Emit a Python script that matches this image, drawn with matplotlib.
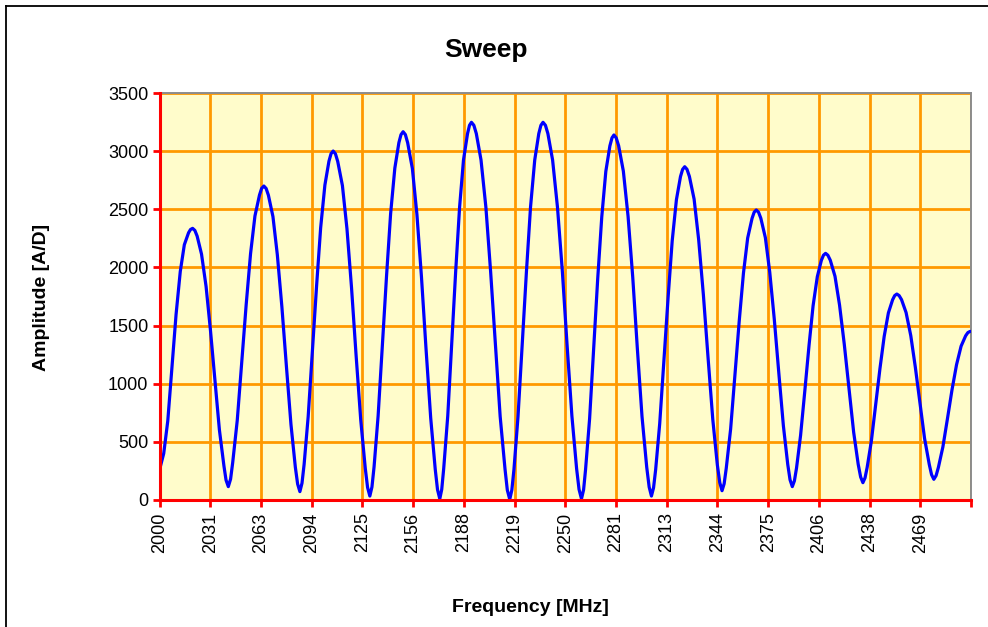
import matplotlib
matplotlib.use("Agg")
import matplotlib.pyplot as plt
from matplotlib.lines import Line2D

# ---- data ----
freq_mhz = [
    2000.0, 2002.6, 2005.1, 2007.7, 2010.2, 2012.8, 2015.3, 2017.9, 2019.1, 2020.4,
    2021.8, 2023.2, 2025.9, 2028.7, 2031.4, 2034.2, 2036.9, 2039.7, 2041.0, 2042.4,
    2043.8, 2045.1, 2047.9, 2050.6, 2053.4, 2056.1, 2058.8, 2061.6, 2062.9, 2064.3,
    2065.7, 2067.1, 2069.9, 2072.6, 2075.4, 2078.2, 2081.0, 2083.7, 2085.1, 2086.5,
    2087.8, 2089.1, 2091.6, 2094.2, 2096.8, 2099.3, 2101.9, 2104.4, 2105.7, 2107.0,
    2108.4, 2109.8, 2112.7, 2115.5, 2118.3, 2121.1, 2124.0, 2126.8, 2128.2, 2129.6,
    2130.9, 2132.2, 2134.7, 2137.3, 2139.9, 2142.4, 2145.0, 2147.5, 2148.8, 2150.1,
    2151.5, 2152.9, 2155.8, 2158.6, 2161.4, 2164.2, 2167.1, 2169.9, 2171.3, 2172.7,
    2173.9, 2175.1, 2177.6, 2180.0, 2182.5, 2184.9, 2187.3, 2189.8, 2191.0, 2192.2,
    2193.7, 2195.2, 2198.1, 2201.1, 2204.0, 2207.0, 2209.9, 2212.9, 2214.3, 2215.8,
    2217.1, 2218.4, 2220.9, 2223.5, 2226.1, 2228.6, 2231.2, 2233.7, 2235.0, 2236.3,
    2237.8, 2239.3, 2242.2, 2245.2, 2248.2, 2251.1, 2254.1, 2257.0, 2258.5, 2260.0,
    2261.3, 2262.5, 2265.0, 2267.5, 2270.0, 2272.5, 2275.0, 2277.5, 2278.8, 2280.0,
    2281.4, 2282.9, 2285.8, 2288.7, 2291.6, 2294.4, 2297.3, 2300.2, 2301.7, 2303.1,
    2304.4, 2305.7, 2308.2, 2310.8, 2313.4, 2315.9, 2318.5, 2321.0, 2322.3, 2323.6,
    2325.0, 2326.5, 2329.4, 2332.2, 2335.1, 2338.0, 2340.9, 2343.7, 2345.2, 2346.6,
    2347.9, 2349.2, 2351.9, 2354.5, 2357.2, 2359.8, 2362.4, 2365.1, 2366.4, 2367.7,
    2369.1, 2370.5, 2373.3, 2376.0, 2378.8, 2381.6, 2384.4, 2387.1, 2388.5, 2389.9,
    2391.2, 2392.5, 2395.0, 2397.6, 2400.2, 2402.7, 2405.3, 2407.8, 2409.1, 2410.4,
    2411.8, 2413.3, 2416.2, 2419.0, 2421.9, 2424.8, 2427.7, 2430.5, 2432.0, 2433.4,
    2434.7, 2436.0, 2438.6, 2441.2, 2443.9, 2446.5, 2449.1, 2451.7, 2453.0, 2454.3,
    2455.7, 2457.2, 2460.0, 2462.9, 2465.7, 2468.6, 2471.4, 2474.3, 2475.7, 2477.1,
    2478.5, 2479.9, 2482.7, 2485.5, 2488.3, 2491.1, 2493.9, 2496.7, 2498.1, 2499.5,
]
amplitude = [
    258, 400, 680, 1142, 1594, 1965, 2195, 2298, 2326, 2336,
    2318, 2269, 2114, 1836, 1459, 1026, 604, 293, 171, 115,
    180, 322, 684, 1175, 1679, 2118, 2442, 2622, 2679, 2700,
    2679, 2621, 2437, 2109, 1662, 1149, 650, 282, 138, 72,
    145, 306, 716, 1273, 1844, 2342, 2708, 2913, 2978, 3001,
    2977, 2912, 2704, 2333, 1829, 1250, 687, 271, 108, 34,
    112, 285, 723, 1319, 1929, 2462, 2854, 3073, 3142, 3167,
    3142, 3072, 2851, 2457, 1920, 1304, 705, 263, 89, 10,
    91, 269, 722, 1338, 1969, 2519, 2924, 3151, 3222, 3248,
    3222, 3151, 2924, 2518, 1967, 1335, 718, 264, 86, 5,
    86, 264, 718, 1335, 1967, 2518, 2924, 3151, 3222, 3248,
    3222, 3151, 2924, 2519, 1969, 1338, 722, 269, 91, 10,
    88, 260, 698, 1293, 1903, 2435, 2826, 3045, 3114, 3139,
    3114, 3046, 2828, 2440, 1913, 1307, 717, 282, 112, 34,
    105, 261, 657, 1195, 1747, 2229, 2583, 2781, 2843, 2866,
    2844, 2782, 2587, 2239, 1766, 1222, 693, 303, 150, 80,
    140, 273, 611, 1070, 1540, 1951, 2253, 2422, 2475, 2494,
    2475, 2423, 2256, 1959, 1554, 1090, 638, 305, 174, 115,
    165, 275, 556, 937, 1329, 1670, 1920, 2061, 2105, 2121,
    2105, 2062, 1924, 1677, 1342, 958, 583, 307, 198, 149,
    190, 279, 506, 814, 1130, 1406, 1609, 1722, 1758, 1771,
    1758, 1723, 1612, 1413, 1142, 831, 528, 305, 218, 178,
    210, 280, 458, 700, 948, 1164, 1323, 1412, 1440, 1450,
]
x_tick_values = [2000, 2031.25, 2062.5, 2093.75, 2125, 2156.25, 2187.5, 2218.75,
                 2250, 2281.25, 2312.5, 2343.75, 2375, 2406.25, 2437.5, 2468.75, 2500]
x_tick_labels = ["2000", "2031", "2063", "2094", "2125", "2156", "2188", "2219",
                 "2250", "2281", "2313", "2344", "2375", "2406", "2438", "2469", ""]
y_tick_values = [0, 500, 1000, 1500, 2000, 2500, 3000, 3500]

title = "Sweep"
x_label = "Frequency [MHz]"
y_label = "Amplitude [A/D]"

# ---- figure ----
plt.rcParams['font.family'] = ['Liberation Sans', 'DejaVu Sans']
W, H = 988, 627
fig = plt.figure(figsize=(W / 100, H / 100), dpi=100)
fig.patch.set_facecolor('white')

# outer chart frame (left and top edges visible)
fig.add_artist(Line2D([6 / W, 6 / W], [0, 1 - 6 / H], transform=fig.transFigure,
                      color='black', lw=1.3))
fig.add_artist(Line2D([6 / W, 1], [1 - 6 / H, 1 - 6 / H], transform=fig.transFigure,
                      color='black', lw=1.3))

left, right, top, bottom = 159.5, 971, 93, 500
ax = fig.add_axes([left / W, 1 - bottom / H, (right - left) / W, (bottom - top) / H])
ax.set_facecolor('#FFFCCB')

ax.plot(freq_mhz, amplitude, color='#0000FF', lw=2.3, solid_joinstyle='round',
        solid_capstyle='round', zorder=3, clip_on=True)

ax.set_xlim(2000, 2500)
ax.set_ylim(0, 3500)
ax.set_xticks(x_tick_values)
ax.set_xticklabels(x_tick_labels, rotation=90, fontsize=13)
ax.set_yticks(y_tick_values)
ax.set_yticklabels([str(v) for v in y_tick_values], fontsize=13)

ax.grid(True, color='#FF9900', lw=2.0, zorder=1)
ax.set_axisbelow(True)

for s in ('left', 'bottom'):
    ax.spines[s].set_color('#FF0000')
    ax.spines[s].set_linewidth(2.2)
    ax.spines[s].set_zorder(4)
for s in ('top', 'right'):
    ax.spines[s].set_color('#8C8C8C')
    ax.spines[s].set_linewidth(1.4)

ax.tick_params(axis='both', direction='out', length=5, width=2.0, color='#FF0000',
               pad=3)
ax.tick_params(axis='x', pad=4)

fig.text(486 / W, 1 - 50 / H, title, ha='center', va='center',
         fontsize=19, fontweight='bold')
fig.text(530 / W, 1 - 607 / H, x_label, ha='center', va='center',
         fontsize=14, fontweight='bold')
fig.text(41 / W, 1 - 297 / H, y_label, ha='center', va='center', rotation=90,
         fontsize=14, fontweight='bold')

fig.savefig('out.png', dpi=100)
